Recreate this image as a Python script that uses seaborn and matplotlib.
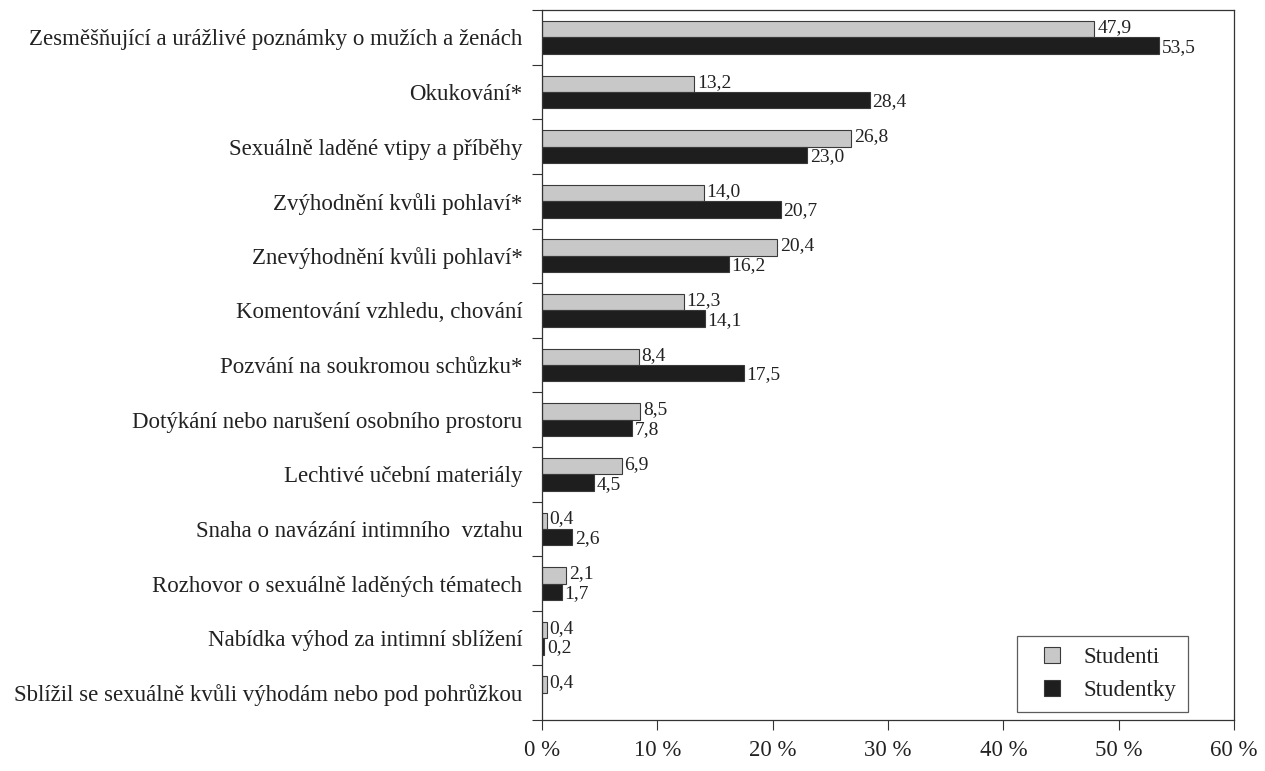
import pandas as pd
import matplotlib.pyplot as plt
import seaborn as sns
import numpy as np
from matplotlib.lines import Line2D
from matplotlib.ticker import FixedLocator, FuncFormatter

# Data
kategorie = [
    'Zesměšňující a urážlivé poznámky o mužích a ženách',
    'Okukování*',
    'Sexuálně laděné vtipy a příběhy',
    'Zvýhodnění kvůli pohlaví*',
    'Znevýhodnění kvůli pohlaví*',
    'Komentování vzhledu, chování',
    'Pozvání na soukromou schůzku*',
    'Dotýkání nebo narušení osobního prostoru',
    'Lechtivé učební materiály',
    'Snaha o navázání intimního  vztahu',
    'Rozhovor o sexuálně laděných tématech',
    'Nabídka výhod za intimní sblížení',
    'Sblížil se sexuálně kvůli výhodám nebo pod pohrůžkou',
]
studenti = [47.9, 13.2, 26.8, 14.0, 20.4, 12.3, 8.4, 8.5, 6.9, 0.4, 2.1, 0.4, 0.4]
studentky = [53.5, 28.4, 23.0, 20.7, 16.2, 14.1, 17.5, 7.8, 4.5, 2.6, 1.7, 0.2, np.nan]
skupiny = ['Studenti', 'Studentky']
barvy = {'Studenti': '#c8c8c8', 'Studentky': '#1e1e1e'}

df = pd.DataFrame({
    'kategorie': kategorie * 2,
    'skupina': [skupiny[0]] * len(kategorie) + [skupiny[1]] * len(kategorie),
    'hodnota': studenti + studentky,
})

sns.set_theme(style="white")
plt.rcParams['font.family'] = ['Liberation Serif', 'DejaVu Serif']
fs = 16.5

fig = plt.figure(figsize=(12.65, 7.71), dpi=100)
ax = fig.add_axes([0.4285, 0.066, 0.547, 0.921])

sns.barplot(data=df, x='hodnota', y='kategorie', hue='skupina', orient='h',
            order=kategorie, hue_order=skupiny, palette=barvy,
            edgecolor='#3a3a3a', linewidth=0.8, width=0.6, saturation=1,
            legend=False, ax=ax)

# Value labels with decimal comma; nudge apart slightly so pairs don't touch
for cont, dy in zip(ax.containers, [1.2, -1.2]):
    labels = [f'{b.get_width():.1f}'.replace('.', ',') for b in cont]
    anns = ax.bar_label(cont, labels=labels, padding=2, fontsize=14, color='#222222')
    for a in anns:
        a.xyann = (2, dy)

ax.set_xlim(0, 60)
ax.set_ylim(len(kategorie) - 0.5, -0.5)
ax.set_xticks(range(0, 61, 10))
ax.xaxis.set_major_formatter(FuncFormatter(lambda x, pos: f'{x:.0f} %'))
ax.set_xlabel('')
ax.set_ylabel('')

# Category separators as minor ticks
ax.yaxis.set_minor_locator(FixedLocator(np.arange(-0.5, len(kategorie), 1)))
ax.tick_params(axis='y', which='major', length=0, pad=14, labelsize=fs, labelcolor='#222222')
ax.tick_params(axis='y', which='minor', length=7, width=0.8, color='#333333', left=True, direction='out')
ax.tick_params(axis='x', which='major', length=7, width=0.8, color='#333333', bottom=True,
               direction='out', pad=7, labelsize=fs, labelcolor='#222222')

for s in ax.spines.values():
    s.set_visible(True)
    s.set_color('#333333')
    s.set_linewidth(0.9)

# Legend with square markers
handles = [Line2D([], [], linestyle='none', marker='s', markersize=11,
                  markerfacecolor=barvy[g], markeredgecolor='#3a3a3a', markeredgewidth=0.8)
           for g in skupiny]
leg = ax.legend(handles, skupiny, loc='lower right', bbox_to_anchor=(0.9335, 0.011),
                frameon=True, fancybox=False, edgecolor='#333333', fontsize=fs,
                handlelength=2.0, borderpad=0.5, labelspacing=0.5, handletextpad=0.4,
                borderaxespad=0)
leg.get_frame().set_linewidth(0.9)
for t in leg.get_texts():
    t.set_color('#222222')

fig.savefig('out.png', dpi=100)
